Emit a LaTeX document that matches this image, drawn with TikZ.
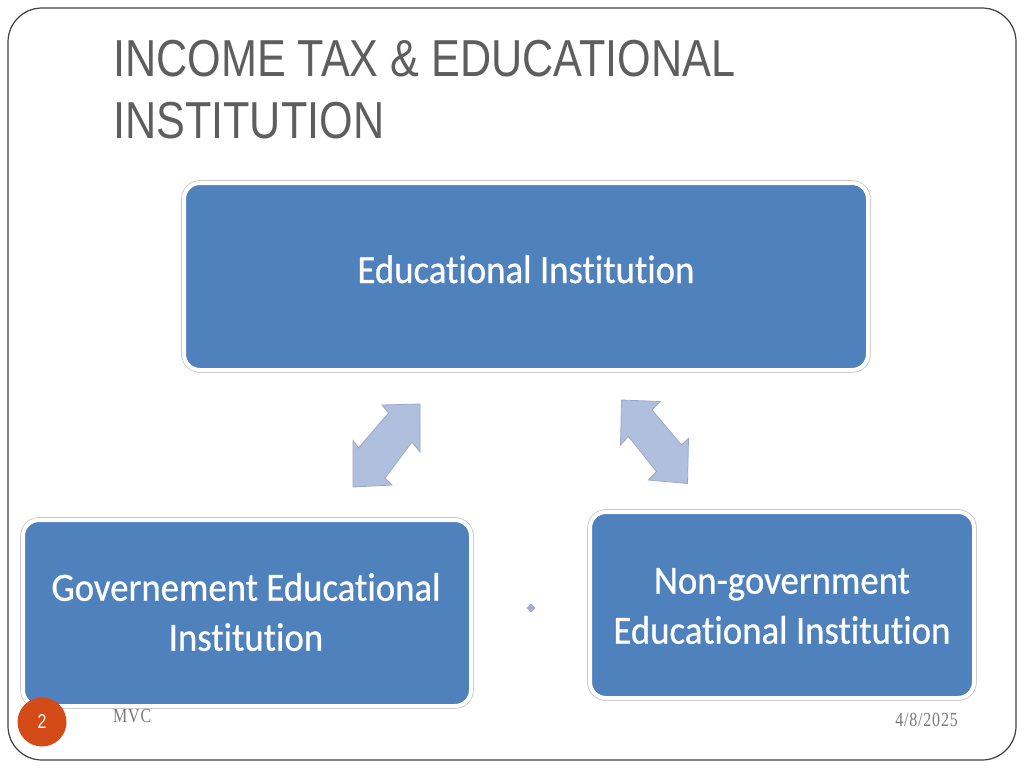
\documentclass[tikz,border=0pt]{standalone}
\usepackage{fontspec}
\usetikzlibrary{shapes.geometric}
\newfontfamily\carlito[FakeStretch=0.92, Ligatures=NoCommon, FakeBold=0.6]{Carlito}
\newfontfamily\titlefont[FakeStretch=0.83]{Liberation Sans}
\newfontfamily\footserif[FakeStretch=0.8, LetterSpace=4]{Liberation Serif}
\newfontfamily\footsans[FakeStretch=0.8]{Liberation Sans}
\definecolor{boxblue}{HTML}{4F81BD}
\definecolor{arrowfill}{HTML}{B0BFDD}
\definecolor{arrowline}{HTML}{9CA9C6}
\definecolor{titlegray}{HTML}{5E5E5E}
\definecolor{footgray}{HTML}{7A7A7A}
\definecolor{slideorange}{HTML}{D54B17}
\definecolor{dotcol}{HTML}{A3ABDC}
\tikzset{
  bluebox/.style={rectangle, rounded corners=16pt, fill=boxblue, draw=white, line width=4pt,
    preaction={draw=black!22, line width=5.6pt}, inner sep=0pt},
  boxtext/.style={text=white, font=\carlito\fontsize{40}{50}\selectfont, align=center, inner sep=0pt},
  blockarrow/.style={fill=arrowfill, draw=arrowline, line width=0.8pt, line join=miter},
  footer/.style={text=footgray, inner sep=0pt}
}
\begin{document}
\begin{tikzpicture}[x=1pt, y=-1pt]
\useasboundingbox (0,0) rectangle (1024,768);
\fill[white] (0,0) rectangle (1024,768);
% slide frame
\draw[line width=1.2pt, black!75, rounded corners=34pt] (8,8) rectangle (1016,760);
% title
\node[anchor=base west, inner sep=0pt, text=titlegray, font=\titlefont\fontsize{52}{61}\selectfont] (title1) at (113,77) {INCOME TAX \& EDUCATIONAL};
\node[anchor=base west, inner sep=0pt, text=titlegray, font=\titlefont\fontsize{52}{61}\selectfont] (title2) at (113,138) {INSTITUTION};
% boxes
\node[bluebox, minimum width=684pt, minimum height=187pt] (top) at (526,276.5) {};
\node[bluebox, minimum width=448pt, minimum height=186pt] (left) at (247,613) {};
\node[bluebox, minimum width=384pt, minimum height=186pt] (right) at (782,605) {};
\node[boxtext, anchor=base] (toptext) at (526,283) {Educational Institution};
\node[boxtext] (lefttext) at (246,612) {Governement Educational\\Institution};
\node[boxtext] (righttext) at (782,606) {Non-government\\Educational Institution};
% block arrows
\draw[blockarrow] (420,404) -- (382,405) -- (388.5,413) -- (358.5,448) -- (353,440.5) -- (353,487) -- (392,485) -- (385,478) -- (412,442) -- (420,452) -- cycle;
\draw[blockarrow] (621.5,400) -- (660,401.5) -- (652,410) -- (681.5,445) -- (688.5,438.5) -- (687.5,483.5) -- (648.5,480) -- (656.5,471.5) -- (628.5,436.5) -- (620.5,445) -- cycle;
% small diamond
\node[diamond, fill=dotcol, minimum size=9pt, inner sep=0pt] (dot) at (531,608) {};
% footer
\node[circle, fill=slideorange, minimum size=49pt, inner sep=0pt, text=white, font=\footsans\fontsize{20}{24}\selectfont] (pagenum) at (42,722) {2};
\node[footer, anchor=base west, font=\footserif\fontsize{20}{24}\selectfont] (mvc) at (113,722) {MVC};
\node[footer, anchor=base east, font=\footserif\fontsize{20}{24}\selectfont] (date) at (958,726) {4/8/2025};
\end{tikzpicture}
\end{document}
